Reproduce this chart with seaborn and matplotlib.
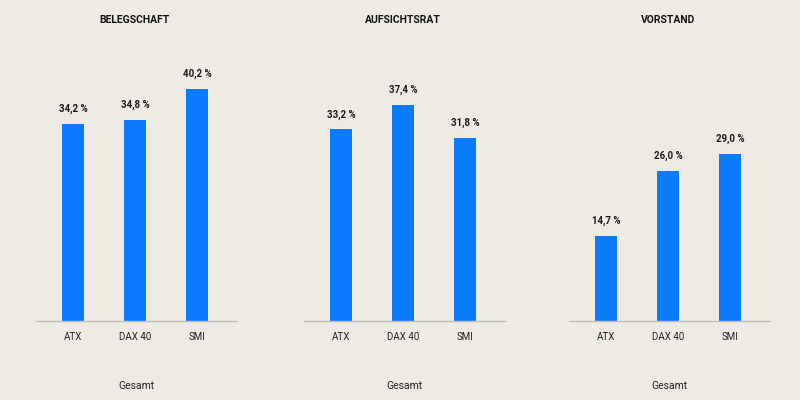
import matplotlib
matplotlib.use("Agg")
import matplotlib.pyplot as plt
import seaborn as sns
import pandas as pd

categories = ["ATX", "DAX 40", "SMI"]
titles = ["BELEGSCHAFT", "AUFSICHTSRAT", "VORSTAND"]
belegschaft = [34.2, 34.8, 40.2]
aufsichtsrat = [33.2, 37.4, 31.8]
vorstand = [14.7, 26.0, 29.0]
xlabel = "Gesamt"

series = [belegschaft, aufsichtsrat, vorstand]

bg = "#EEEBE5"
blue = "#0A7BFF"
sns.set_theme(style="white")
plt.rcParams["font.family"] = ["Roboto", "DejaVu Sans"]

fig = plt.figure(figsize=(8, 4), dpi=100)
fig.patch.set_facecolor(bg)

W, H = 800, 400
first_centers = [73, 341, 606]
spacing = 62.0
x_lo, x_hi = -0.6, 2.65
baseline_px = 321
px_per_unit = 5.77
y_max = 50

for i, (vals, title) in enumerate(zip(series, titles)):
    left_px = first_centers[i] + x_lo * spacing
    width_px = (x_hi - x_lo) * spacing
    height_px = y_max * px_per_unit
    ax = fig.add_axes([left_px / W, 1 - baseline_px / H, width_px / W, height_px / H])
    ax.set_facecolor(bg)
    df = pd.DataFrame({"cat": categories, "val": vals})
    sns.barplot(data=df, x="cat", y="val", ax=ax, color=blue, saturation=1,
                width=22 / spacing, edgecolor="none")
    ax.set_xlim(x_lo, x_hi)
    ax.set_ylim(0, y_max)
    for s in ["top", "right", "left"]:
        ax.spines[s].set_visible(False)
    ax.spines["bottom"].set_color("#C2BFBA")
    ax.spines["bottom"].set_linewidth(1.0)
    ax.set_yticks([])
    ax.set_ylabel("")
    ax.set_xlabel(xlabel, fontsize=7.5, color="#222222", labelpad=28)
    ax.tick_params(axis="x", length=0, pad=8, labelsize=7, colors="#222222")
    for j, v in enumerate(vals):
        ax.annotate(f"{v:.1f} %".replace(".", ","), (j, v), xytext=(0, 7),
                    textcoords="offset points", ha="center", va="bottom",
                    fontsize=7, fontweight="bold", color="#1a1a1a")
    center_px = first_centers[i] + spacing
    fig.text(center_px / W, 1 - 20 / H, title, ha="center", va="center",
             fontsize=7.5, fontweight="bold", color="#111111")

fig.savefig("out.png", dpi=100, facecolor=bg)
